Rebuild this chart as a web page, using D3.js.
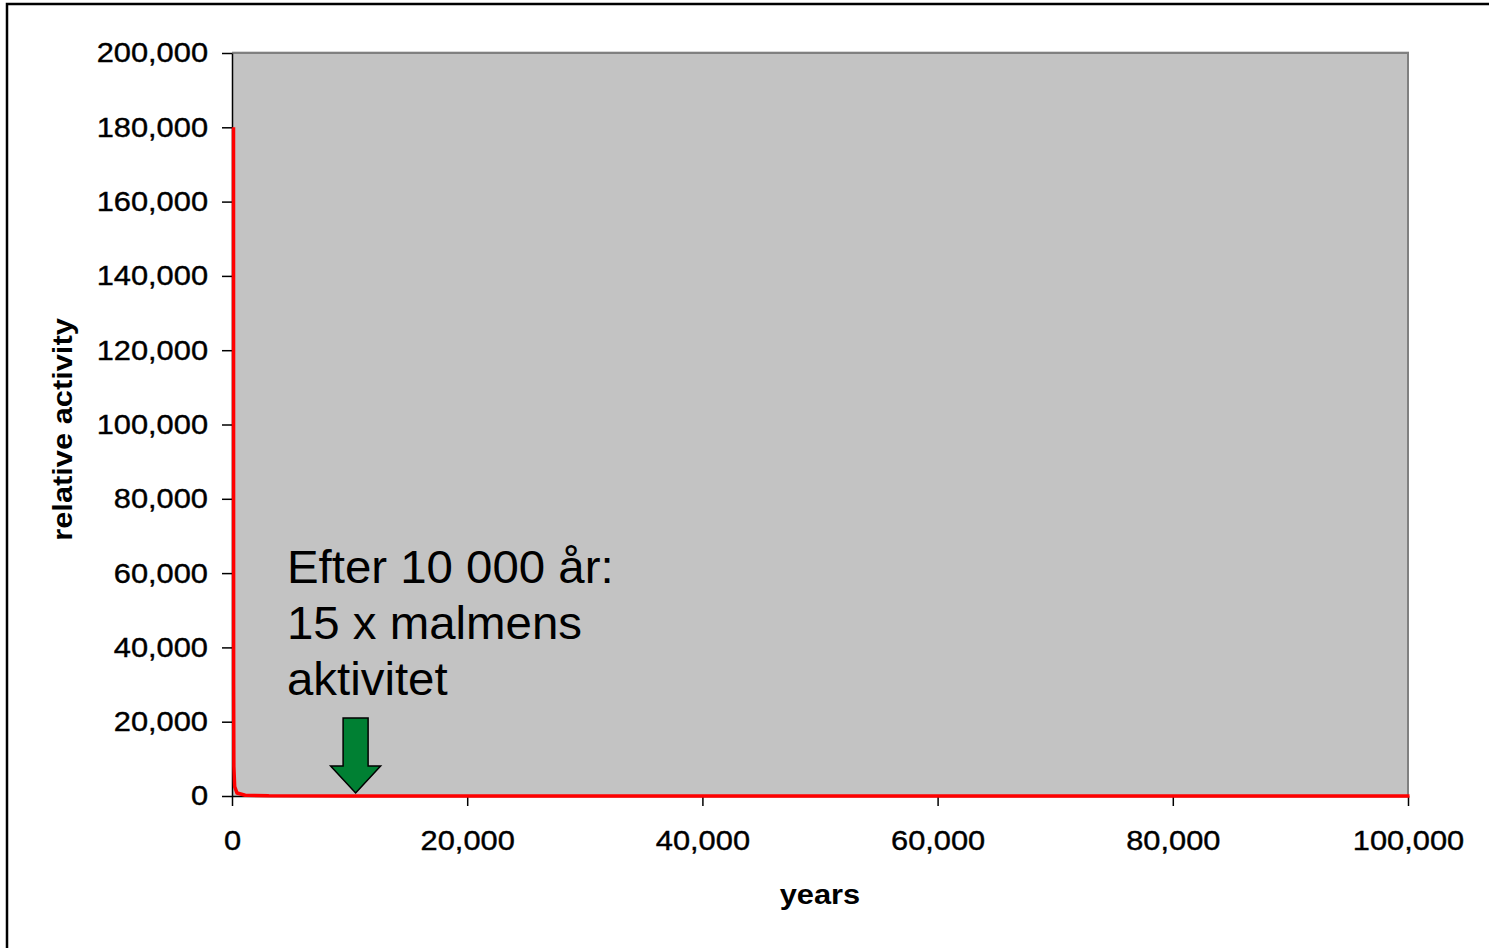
<!DOCTYPE html>
<html>
<head>
<meta charset="utf-8">
<script src="https://cdn.jsdelivr.net/npm/d3@7"></script>
<style>
  html, body { margin: 0; padding: 0; background: #fff; }
  svg { display: block; font-family: "Liberation Sans", Arial, sans-serif; }
</style>
</head>
<body>
<svg id="chart" width="1489" height="948"></svg>
<script>
// Relative activity of spent fuel versus time (ore = 1)
const years    = [0, 10, 30, 100, 300, 1000, 3000, 10000, 30000, 100000];
const activity = [180000, 30000, 8000, 2500, 800, 200, 50, 15, 6, 2];

const xTicks = [0, 20000, 40000, 60000, 80000, 100000];
const yTicks = [0, 20000, 40000, 60000, 80000, 100000, 120000, 140000, 160000, 180000, 200000];

const xLabel = "years";
const yLabel = "relative activity";
const noteLines = ["Efter 10 000 år:", "15 x malmens", "aktivitet"];
const noteYear = 10000;

const W = 1489, H = 948;
const plot = { left: 232, right: 1408, top: 53, bottom: 796 };
const stretch = 1.1;

const svg = d3.select("#chart");
const fmt = d3.format(",");

// outer frame
svg.append("rect")
  .attr("x", 7).attr("y", 4)
  .attr("width", W + 20).attr("height", H + 20)
  .attr("fill", "#fff").attr("stroke", "#000").attr("stroke-width", 2.5);

const x = d3.scaleLinear().domain([0, 100000]).range([plot.left, plot.right]);
const y = d3.scaleLinear().domain([0, 200000]).range([plot.bottom, plot.top]);

// plot area
svg.append("rect")
  .attr("x", plot.left).attr("y", plot.top)
  .attr("width", plot.right - plot.left).attr("height", plot.bottom - plot.top)
  .attr("fill", "#c3c3c3");
svg.append("path")
  .attr("d", `M${plot.left},${plot.top}H${plot.right}V${plot.bottom}`)
  .attr("fill", "none").attr("stroke", "#808080").attr("stroke-width", 2);
svg.append("line")
  .attr("x1", plot.left).attr("x2", plot.right + 1)
  .attr("y1", plot.top - 1.5).attr("y2", plot.top - 1.5)
  .attr("stroke", "#d8d8d8").attr("stroke-width", 1);

function widen(sel, k) {
  sel.each(function () {
    const len = this.getComputedTextLength();
    d3.select(this).attr("textLength", len * (k || stretch)).attr("lengthAdjust", "spacingAndGlyphs");
  });
}

// y axis
const gy = svg.append("g")
  .attr("transform", `translate(${plot.left},0)`)
  .call(d3.axisLeft(y).tickValues(yTicks).tickFormat(fmt).tickSize(10).tickPadding(14).tickSizeOuter(0));
gy.select(".domain").attr("stroke", "#000").attr("stroke-width", 1.5);
gy.selectAll(".tick line").attr("stroke", "#000").attr("stroke-width", 1.5);
gy.selectAll(".tick text")
  .attr("font-size", 28).attr("fill", "#000")
  .attr("stroke", "#000").attr("stroke-width", 0.4)
  .attr("font-family", "'Liberation Sans', Arial, sans-serif")
  .call(widen);

// x axis
const gx = svg.append("g")
  .attr("transform", `translate(0,${plot.bottom})`)
  .call(d3.axisBottom(x).tickValues(xTicks).tickFormat(fmt).tickSize(10).tickPadding(24).tickSizeOuter(0));
gx.select(".domain").attr("stroke", "#000").attr("stroke-width", 1.5);
gx.selectAll(".tick line").attr("stroke", "#000").attr("stroke-width", 1.5);
gx.selectAll(".tick text")
  .attr("font-size", 28).attr("fill", "#000")
  .attr("stroke", "#000").attr("stroke-width", 0.4)
  .attr("font-family", "'Liberation Sans', Arial, sans-serif")
  .call(widen);

// axis titles
svg.append("text")
  .attr("x", (plot.left + plot.right) / 2).attr("y", 904)
  .attr("text-anchor", "middle")
  .attr("font-size", 28).attr("font-weight", "bold")
  .text(xLabel).call(widen);

svg.append("text")
  .attr("transform", `translate(72,${(plot.top + plot.bottom) / 2 + 5}) rotate(-90)`)
  .attr("text-anchor", "middle")
  .attr("font-size", 28).attr("font-weight", "bold")
  .text(yLabel).call(widen);

// activity curve
const line = d3.line().x((d, i) => x(years[i])).y(d => y(d));
svg.append("path")
  .datum(activity)
  .attr("d", line)
  .attr("fill", "none")
  .attr("stroke", "#ff0000")
  .attr("stroke-width", 3.5)
  .attr("stroke-linejoin", "round")
  .attr("transform", "translate(1.5,0)");

// annotation
const note = svg.append("text")
  .attr("x", 287).attr("y", 583)
  .attr("font-size", 46).attr("fill", "#000");
note.selectAll("tspan").data(noteLines).join("tspan")
  .attr("x", 287)
  .attr("dy", (d, i) => i === 0 ? 0 : 56)
  .text(d => d)
  .call(widen, 1.03);

// arrow pointing at the 10 000 year mark
const tipX = x(noteYear) + 6, tipY = plot.bottom - 3;
const arrow = [
  [tipX, tipY],
  [tipX + 25, tipY - 27],
  [tipX + 12.5, tipY - 27],
  [tipX + 12.5, tipY - 75],
  [tipX - 12.5, tipY - 75],
  [tipX - 12.5, tipY - 27],
  [tipX - 25, tipY - 27]
];
svg.append("path")
  .attr("d", d3.line()(arrow) + "Z")
  .attr("fill", "#008033")
  .attr("stroke", "#000")
  .attr("stroke-width", 1.5)
  .attr("stroke-linejoin", "miter");
</script>
</body>
</html>
